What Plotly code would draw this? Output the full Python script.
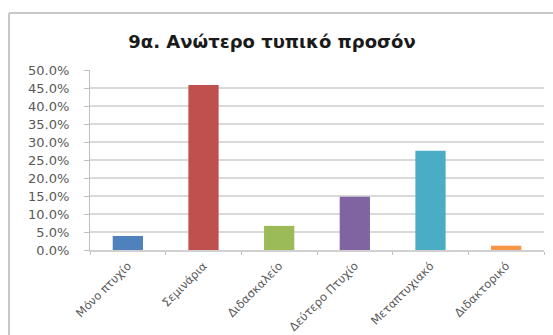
import plotly.graph_objects as go

# Highest formal qualification, share of respondents
categories = ["Μόνο πτυχίο", "Σεμινάρια", "Διδασκαλείο", "Δεύτερο Πτυχίο", "Μεταπτυχιακό", "Διδακτορικό"]
shares = [0.039, 0.458, 0.067, 0.148, 0.276, 0.012]
bar_colors = ["#4F81BD", "#C0504D", "#9BBB59", "#8064A2", "#4BACC6", "#F79646"]
y_ticks = [0.0, 0.05, 0.10, 0.15, 0.20, 0.25, 0.30, 0.35, 0.40, 0.45, 0.50]
title_text = "9α. Ανώτερο τυπικό προσόν"

W, H = 553, 335
L, R, T, B = 90, 9, 70, 85
pw, ph = W - L - R, H - T - B

fig = go.Figure(
    go.Bar(
        x=categories,
        y=shares,
        marker=dict(color=bar_colors, line=dict(width=0)),
        hoverinfo="x+y",
    )
)

grey = "#d9d9d9"
font_family = "DejaVu Sans, Verdana, sans-serif"

fig.update_layout(
    width=W,
    height=H,
    margin=dict(l=L, r=R, t=T, b=B, autoexpand=False),
    paper_bgcolor="white",
    plot_bgcolor="white",
    bargap=0.6,
    showlegend=False,
    title=dict(
        text="<b>" + title_text + "</b>",
        x=272 / W,
        xanchor="center",
        y=1 - 42 / H,
        yanchor="middle",
        xref="container",
        yref="container",
        font=dict(family=font_family, size=18, color="#1a1a1a"),
    ),
    yaxis=dict(
        range=[0, 0.5],
        tickvals=y_ticks,
        tickformat=".1%",
        showgrid=True,
        gridcolor=grey,
        gridwidth=1.5,
        zeroline=False,
        showline=True,
        linecolor="#bfbfbf",
        linewidth=1,
        ticks="outside",
        ticklen=5,
        tickcolor="#bfbfbf",
        ticklabelstandoff=12,
        automargin=False,
        tickfont=dict(family=font_family, size=13, color="#595959"),
        fixedrange=True,
    ),
    xaxis=dict(
        type="category",
        tickangle=-45,
        showline=True,
        linecolor="#d0d0d0",
        linewidth=1.5,
        ticks="outside",
        tickson="boundaries",
        ticklen=3,
        tickcolor="#bfbfbf",
        ticklabelstandoff=3,
        automargin=False,
        tickfont=dict(family=font_family, size=11.5, color="#595959"),
        fixedrange=True,
    ),
)

# Chart-area frame (left and top edges)
x0 = (9 - L) / pw
y_top = 1 + (T - 13) / ph
y_bot = -(H - T - ph) / ph - 0.1
x_right = 1 + R / pw + 0.1
frame = dict(color="#c8c8c8", width=2)
fig.add_shape(type="line", xref="paper", yref="paper", x0=x0, x1=x0, y0=y_bot, y1=y_top, line=frame)
fig.add_shape(type="line", xref="paper", yref="paper", x0=x0, x1=x_right, y0=y_top, y1=y_top, line=frame)

fig.write_html("out.html")
